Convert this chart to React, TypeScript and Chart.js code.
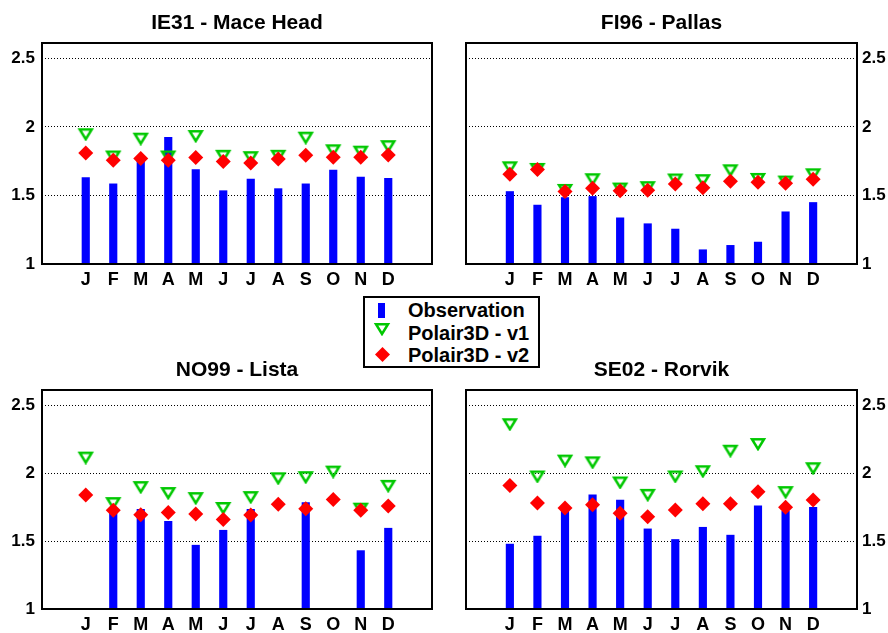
import React, { useEffect, useRef } from 'react';
import { Chart, registerables } from 'chart.js';

Chart.register(...registerables);

const FONT_FAMILY = "'Liberation Sans', Arial, Helvetica, sans-serif";

const MONTHS = ['J', 'F', 'M', 'A', 'M', 'J', 'J', 'A', 'S', 'O', 'N', 'D'];
const Y_TICKS = [1, 1.5, 2, 2.5];
const Y_MIN = 1;
const Y_MAX = 2.613;

const IE31_OBS = [1.63, 1.585, 1.76, 1.925, 1.69, 1.535, 1.62, 1.55, 1.585, 1.685, 1.635, 1.625];
const IE31_V1 = [1.947, 1.785, 1.915, 1.785, 1.934, 1.79, 1.78, 1.79, 1.922, 1.83, 1.82, 1.86];
const IE31_V2 = [1.81, 1.757, 1.77, 1.757, 1.777, 1.748, 1.738, 1.767, 1.794, 1.78, 1.78, 1.796];

const FI96_OBS = [1.529, 1.43, 1.485, 1.493, 1.337, 1.294, 1.255, 1.104, 1.136, 1.16, 1.381, 1.449];
const FI96_V1 = [1.706, 1.694, 1.541, 1.619, 1.551, 1.561, 1.617, 1.612, 1.684, 1.621, 1.602, 1.655];
const FI96_V2 = [1.655, 1.69, 1.53, 1.553, 1.534, 1.539, 1.583, 1.556, 1.604, 1.597, 1.59, 1.619];

const NO99_OBS: (number | null)[] = [null, 1.73, 1.735, 1.646, 1.47, 1.58, 1.735, null, 1.783, null, 1.43, 1.595];
const NO99_V1 = [2.115, 1.78, 1.898, 1.854, 1.817, 1.744, 1.824, 1.963, 1.971, 2.012, 1.739, 1.907];
const NO99_V2 = [1.839, 1.727, 1.695, 1.71, 1.7, 1.659, 1.693, 1.771, 1.739, 1.807, 1.727, 1.759];

const SE02_OBS = [1.478, 1.537, 1.75, 1.841, 1.802, 1.59, 1.512, 1.602, 1.544, 1.759, 1.72, 1.749];
const SE02_V1 = [2.361, 1.976, 2.093, 2.08, 1.932, 1.841, 1.976, 2.015, 2.166, 2.215, 1.861, 2.037];
const SE02_V2 = [1.91, 1.78, 1.744, 1.768, 1.705, 1.68, 1.73, 1.776, 1.776, 1.863, 1.749, 1.802];

const LEGEND_LABELS = ['Observation', 'Polair3D - v1', 'Polair3D - v2'];

const BLUE = '#0000FF';
const GREEN = '#00C800';
const RED = '#FF0000';

type PanelDef = {
  title: string;
  obs: (number | null)[];
  v1: number[];
  v2: number[];
  left: number;
  top: number;
  width: number;
  height: number;
  yPos: 'left' | 'right';
  padding: { top: number; left: number; right: number; bottom: number };
  yWidth: number;
  xHeight: number;
};

const PANELS: PanelDef[] = [
  { title: 'IE31 - Mace Head', obs: IE31_OBS, v1: IE31_V1, v2: IE31_V2, left: 0, top: 0, width: 444, height: 300, yPos: 'left', padding: { top: 43, left: 0, right: 12, bottom: 6 }, yWidth: 42, xHeight: 30 },
  { title: 'FI96 - Pallas', obs: FI96_OBS, v1: FI96_V1, v2: FI96_V2, left: 444, top: 0, width: 444, height: 300, yPos: 'right', padding: { top: 43, left: 22, right: 0, bottom: 6 }, yWidth: 31, xHeight: 30 },
  { title: 'NO99 - Lista', obs: NO99_OBS, v1: NO99_V1, v2: NO99_V2, left: 0, top: 330, width: 444, height: 303, yPos: 'left', padding: { top: 60, left: 0, right: 12, bottom: 0 }, yWidth: 42, xHeight: 24 },
  { title: 'SE02 - Rorvik', obs: SE02_OBS, v1: SE02_V1, v2: SE02_V2, left: 444, top: 330, width: 444, height: 303, yPos: 'right', padding: { top: 60, left: 22, right: 0, bottom: 0 }, yWidth: 31, xHeight: 24 },
];

function makeTriangle(): HTMLCanvasElement {
  const c = document.createElement('canvas');
  c.width = 18;
  c.height = 14;
  const ctx = c.getContext('2d')!;
  ctx.strokeStyle = GREEN;
  ctx.lineWidth = 2.5;
  ctx.lineJoin = 'miter';
  ctx.beginPath();
  ctx.moveTo(3, 2.2);
  ctx.lineTo(15, 2.2);
  ctx.lineTo(9, 12);
  ctx.closePath();
  ctx.stroke();
  return c;
}

const framePlugin = {
  id: 'frameAndTitle',
  afterDraw(chart: any) {
    const { ctx, chartArea } = chart;
    const title = chart.options.plugins.panelTitle?.text ?? '';
    ctx.save();
    ctx.strokeStyle = '#000';
    ctx.lineWidth = 2;
    ctx.strokeRect(chartArea.left, chartArea.top, chartArea.right - chartArea.left, chartArea.bottom - chartArea.top);
    ctx.fillStyle = '#000';
    ctx.font = `bold 21px ${FONT_FAMILY}`;
    ctx.textAlign = 'center';
    ctx.textBaseline = 'middle';
    ctx.fillText(title, (chartArea.left + chartArea.right) / 2, chartArea.top - 20);
    ctx.restore();
  },
};

function Panel({ def }: { def: PanelDef }) {
  const ref = useRef<HTMLCanvasElement | null>(null);
  useEffect(() => {
    if (!ref.current) return;
    const tri = makeTriangle();
    const barData = def.obs
      .map((v, i) => (v == null ? null : { x: i + 1, y: [Y_MIN, v] }))
      .filter((d) => d !== null);
    const chart = new Chart(ref.current, {
      type: 'bar',
      data: {
        datasets: [
          {
            type: 'bar',
            label: LEGEND_LABELS[0],
            data: barData as any,
            backgroundColor: BLUE,
            barThickness: 7.5,
            order: 3,
          } as any,
          {
            type: 'line',
            label: LEGEND_LABELS[1],
            data: def.v1.map((v, i) => ({ x: i + 1, y: v })),
            showLine: false,
            pointStyle: tri,
            pointRadius: 7,
            order: 2,
          } as any,
          {
            type: 'line',
            label: LEGEND_LABELS[2],
            data: def.v2.map((v, i) => ({ x: i + 1, y: v })),
            showLine: false,
            pointStyle: 'rectRot',
            pointRadius: 7.5,
            pointBackgroundColor: RED,
            pointBorderColor: RED,
            pointBorderWidth: 0,
            order: 1,
          } as any,
        ],
      },
      options: {
        responsive: false,
        animation: false,
        events: [],
        layout: { padding: def.padding },
        plugins: {
          legend: { display: false },
          tooltip: { enabled: false },
          title: { display: false },
          panelTitle: { text: def.title },
        } as any,
        scales: {
          x: {
            type: 'linear',
            min: 0,
            max: 13,
            grid: { display: false, drawTicks: false },
            border: { display: false },
            afterBuildTicks: (s: any) => {
              s.ticks = MONTHS.map((_, i) => ({ value: i + 1 }));
            },
            afterFit: (s: any) => {
              s.height = def.xHeight;
            },
            ticks: {
              autoSkip: false,
              maxRotation: 0,
              padding: 5,
              color: '#000',
              font: { family: FONT_FAMILY, size: 18, weight: 'bold' },
              callback: (_v: any, i: number) => MONTHS[i],
            },
          },
          y: {
            type: 'linear',
            position: def.yPos,
            min: Y_MIN,
            max: Y_MAX,
            grid: { color: '#000', lineWidth: 1, drawTicks: false },
            border: { display: false, dash: [1, 2] },
            afterBuildTicks: (s: any) => {
              s.ticks = Y_TICKS.map((v) => ({ value: v }));
            },
            afterFit: (s: any) => {
              s.width = def.yWidth;
            },
            ticks: {
              padding: def.yPos === 'left' ? 7 : 5,
              color: '#000',
              font: { family: FONT_FAMILY, size: 17, weight: 'bold' },
              callback: (v: any) => String(v),
            },
          },
        },
      } as any,
      plugins: [framePlugin],
    });
    return () => chart.destroy();
  }, [def]);
  return (
    <canvas
      ref={ref}
      width={def.width}
      height={def.height}
      style={{ position: 'absolute', left: def.left, top: def.top, width: def.width, height: def.height }}
    />
  );
}

function Legend() {
  const rowCenters = [310, 333, 354.5];
  const textStyle: React.CSSProperties = {
    position: 'absolute',
    left: 408 - 365,
    fontFamily: FONT_FAMILY,
    fontWeight: 'bold',
    fontSize: 20,
    lineHeight: '20px',
    whiteSpace: 'nowrap',
    color: '#000',
  };
  return (
    <div
      style={{
        position: 'absolute',
        left: 363,
        top: 296,
        width: 177,
        height: 72,
        boxSizing: 'border-box',
        border: '2px solid #000',
        background: '#fff',
        zIndex: 10,
      }}
    >
      <div style={{ position: 'absolute', left: 378 - 365, top: 303 - 298, width: 7, height: 15, background: BLUE }} />
      <svg style={{ position: 'absolute', left: 373 - 365, top: 322 - 298 }} width={18} height={14}>
        <polygon points="3,2.2 15,2.2 9,12" fill="none" stroke={GREEN} strokeWidth={2.5} />
      </svg>
      <svg style={{ position: 'absolute', left: 374.5 - 365, top: 347 - 298 }} width={15} height={15}>
        <polygon points="7.5,0 15,7.5 7.5,15 0,7.5" fill={RED} />
      </svg>
      {LEGEND_LABELS.map((t, i) => (
        <div key={t} style={{ ...textStyle, top: rowCenters[i] - 10 - 298 }}>
          {t}
        </div>
      ))}
    </div>
  );
}

export default function App() {
  return (
    <div style={{ position: 'absolute', left: 0, top: 0, width: 888, height: 633, background: '#fff' }}>
      {PANELS.map((p) => (
        <Panel key={p.title} def={p} />
      ))}
      <Legend />
    </div>
  );
}
